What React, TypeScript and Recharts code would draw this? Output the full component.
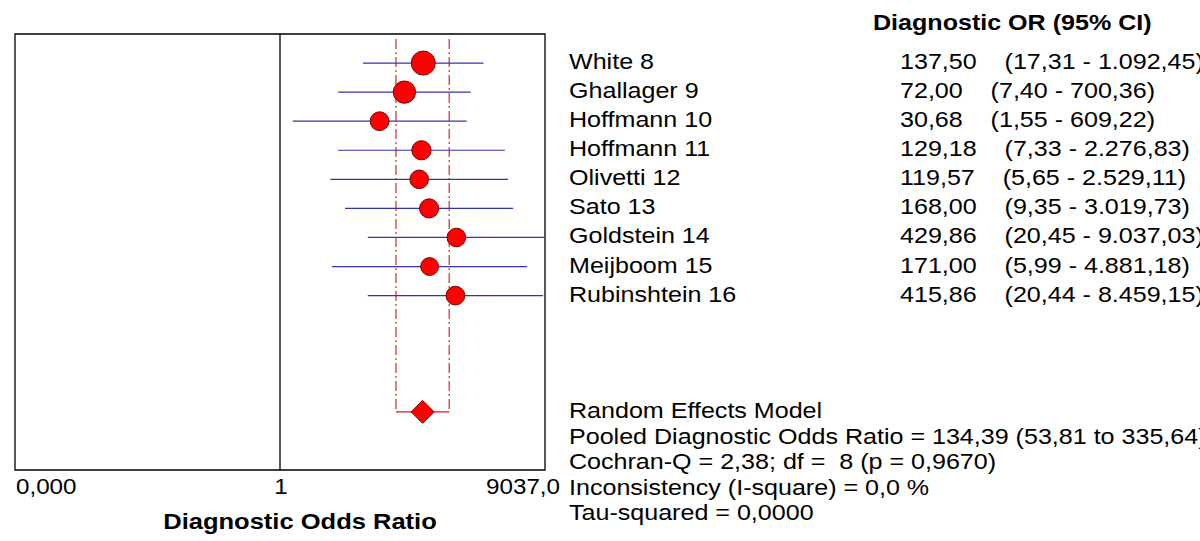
import { ComposedChart, XAxis, YAxis, Scatter, ReferenceLine, ReferenceArea } from 'recharts';

const FONT = '"Liberation Sans", Arial, sans-serif';

const STUDIES = [
  'White 8',
  'Ghallager 9',
  'Hoffmann 10',
  'Hoffmann 11',
  'Olivetti 12',
  'Sato 13',
  'Goldstein 14',
  'Meijboom 15',
  'Rubinshtein 16',
];
const OR = [137.5, 72.0, 30.68, 129.18, 119.57, 168.0, 429.86, 171.0, 415.86];
const CI_LOW = [17.31, 7.4, 1.55, 7.33, 5.65, 9.35, 20.45, 5.99, 20.44];
const CI_HIGH = [1092.45, 700.36, 609.22, 2276.83, 2529.11, 3019.73, 9037.03, 4881.18, 8459.15];
const OR_LABELS = ['137,50', '72,00', '30,68', '129,18', '119,57', '168,00', '429,86', '171,00', '415,86'];
const CI_LABELS = [
  '(17,31 - 1.092,45)',
  '(7,40 - 700,36)',
  '(1,55 - 609,22)',
  '(7,33 - 2.276,83)',
  '(5,65 - 2.529,11)',
  '(9,35 - 3.019,73)',
  '(20,45 - 9.037,03)',
  '(5,99 - 4.881,18)',
  '(20,44 - 8.459,15)',
];

const POOLED = 134.39;
const POOLED_LOW = 53.81;
const POOLED_HIGH = 335.64;

const X_MAX = 9037.0;
const X_MIN = 1 / X_MAX;
const X_TICKS = [X_MIN, 1, X_MAX];
const X_TICK_LABELS = ['0,000', '1', '9037,0'];

const SUMMARY = [
  'Random Effects Model',
  'Pooled Diagnostic Odds Ratio = 134,39 (53,81 to 335,64)',
  'Cochran-Q = 2,38; df =  8 (p = 0,9670)',
  'Inconsistency (I-square) = 0,0 %',
  'Tau-squared = 0,0000',
];

// rows 1..9 are studies, row 13 the pooled estimate, 15 rows in the box
const ROW_COUNT = 15;
const POOLED_ROW = 13;
const ROWS = STUDIES.map((_, i) => i + 1);

// inverse-variance weight from the CI, used for marker size
const weightOf = (lo: number, hi: number) => {
  const se = (Math.log(hi) - Math.log(lo)) / 3.92;
  return 1 / (se * se);
};

const studyData = STUDIES.map((name, i) => ({
  name,
  or: OR[i],
  row: ROWS[i],
  w: weightOf(CI_LOW[i], CI_HIGH[i]),
}));
const pooledData = [{ or: POOLED, row: POOLED_ROW }];

// the original output has its text a bit wider than Arial, so stretch it
const SText = ({ x, y, anchor = 'start', bold = false, sx = 1.14, children }: any) => (
  <text
    transform={`translate(${x},${y}) scale(${sx},1)`}
    textAnchor={anchor}
    fontFamily={FONT}
    fontSize={22}
    fontWeight={bold ? 'bold' : 'normal'}
    fill="#000"
    style={{ whiteSpace: 'pre' }}
  >
    {children}
  </text>
);

const StudyDot = (props: any) => {
  const r = 7 + 5.6 * props.payload.w;
  return <circle cx={props.cx} cy={props.cy} r={r} fill="#ff0000" stroke="#7a0000" strokeWidth={1} />;
};

const PooledDiamond = (props: any) => {
  const { cx, cy } = props;
  const s = 11.5;
  return (
    <polygon
      points={`${cx - s},${cy} ${cx},${cy - s} ${cx + s},${cy} ${cx},${cy + s}`}
      fill="#ff0000"
      stroke="#9a0000"
      strokeWidth={1}
    />
  );
};

const XTick = (props: any) => {
  const { x, y, index } = props;
  const last = X_TICKS.length - 1;
  const anchor = index === 0 ? 'start' : index === last ? 'end' : 'middle';
  const dx = index === 0 ? 1 : index === last ? 15 : 1;
  return (
    <SText x={x + dx} y={y + 24} anchor={anchor} sx={1.1}>
      {X_TICK_LABELS[index]}
    </SText>
  );
};

const RowTick = (props: any) => {
  const { x, y, payload } = props;
  const i = payload.value - 1;
  return (
    <g>
      <SText x={x + 24} y={y + 6}>{STUDIES[i]}</SText>
      <SText x={x + 355} y={y + 6}>{`${OR_LABELS[i]}    ${CI_LABELS[i]}`}</SText>
    </g>
  );
};

export default function ForestPlot() {
  return (
    <div style={{ position: 'absolute', left: 0, top: 0, width: 1200, height: 541, background: '#fff' }}>
      <ComposedChart width={1200} height={541} margin={{ top: 34, right: 0, bottom: 0, left: 15 }}>
        <XAxis
          type="number"
          dataKey="or"
          scale="log"
          domain={[X_MIN, X_MAX]}
          allowDataOverflow
          ticks={X_TICKS}
          interval={0}
          height={71}
          axisLine={false}
          tickLine={false}
          tickSize={0}
          tickMargin={0}
          tick={<XTick />}
        />
        <YAxis
          type="number"
          dataKey="row"
          orientation="right"
          domain={[0, ROW_COUNT]}
          reversed
          allowDataOverflow
          ticks={ROWS}
          interval={0}
          width={655}
          axisLine={false}
          tickLine={false}
          tickSize={0}
          tickMargin={0}
          tick={<RowTick />}
        />
        <ReferenceArea
          x1={X_MIN}
          x2={X_MAX}
          y1={0}
          y2={ROW_COUNT}
          fill="none"
          stroke="#000"
          strokeWidth={1.3}
          ifOverflow="visible"
        />
        <ReferenceLine x={1} stroke="#000" strokeWidth={1.3} />
        {[POOLED_LOW, POOLED_HIGH].map((v) => (
          <ReferenceLine
            key={v}
            segment={[{ x: v, y: 0.17 }, { x: v, y: POOLED_ROW }]}
            stroke="#d83a3a"
            strokeWidth={1.3}
            strokeDasharray="10 3 2 3"
          />
        ))}
        <ReferenceLine
          segment={[{ x: POOLED_LOW, y: POOLED_ROW }, { x: POOLED_HIGH, y: POOLED_ROW }]}
          stroke="#c81e1e"
          strokeWidth={1.3}
        />
        <Scatter data={studyData} shape={<StudyDot />} isAnimationActive={false} />
        <Scatter data={pooledData} shape={<PooledDiamond />} isAnimationActive={false} />
        {studyData.map((d, i) => (
          <ReferenceLine
            key={d.name}
            segment={[{ x: CI_LOW[i], y: d.row }, { x: CI_HIGH[i], y: d.row }]}
            stroke="#3434ac"
            strokeWidth={1.2}
            ifOverflow="hidden"
          />
        ))}
      </ComposedChart>
      <svg width={1200} height={541} style={{ position: 'absolute', left: 0, top: 0, pointerEvents: 'none' }}>
        <SText x={873} y={30} bold>
          Diagnostic OR (95% CI)
        </SText>
        <SText x={300} y={529} anchor="middle" bold sx={1.16}>
          Diagnostic Odds Ratio
        </SText>
        {SUMMARY.map((line, i) => (
          <SText key={line} x={569} y={418 + i * 25.5}>
            {line}
          </SText>
        ))}
      </svg>
    </div>
  );
}
